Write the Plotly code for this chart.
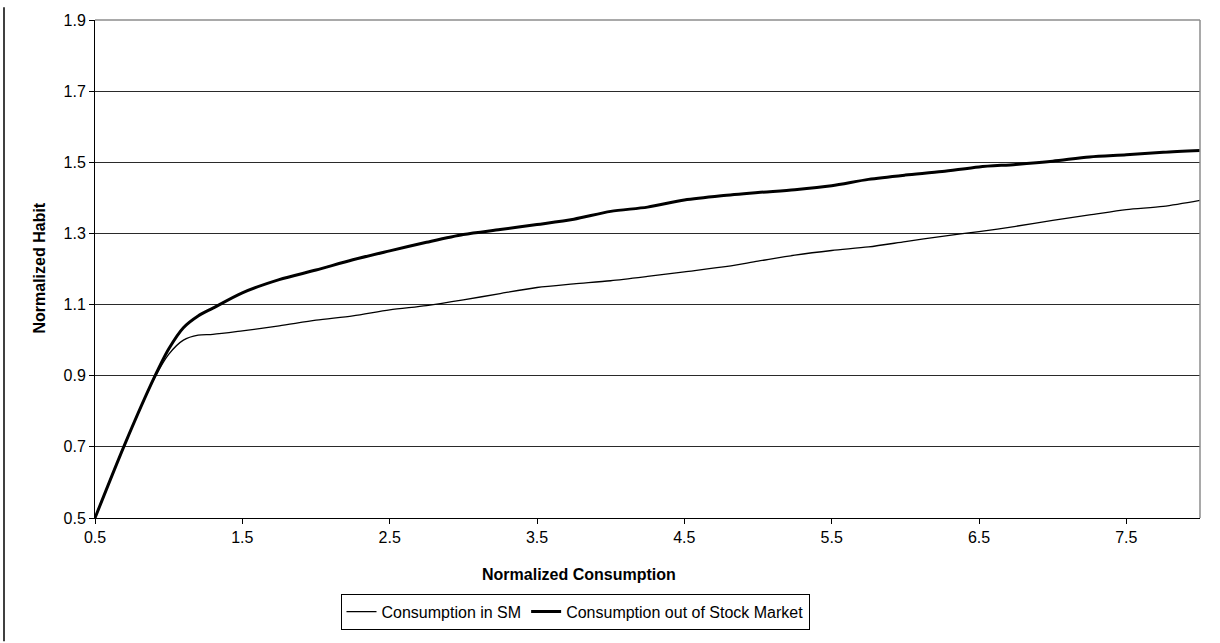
import plotly.graph_objects as go

x_vals = [0.5, 0.7, 0.9, 1.0, 1.1, 1.2, 1.3, 1.5, 1.75, 2.0, 2.25, 2.5, 2.75, 3.0, 3.25,
          3.5, 3.75, 4.0, 4.25, 4.5, 4.75, 5.0, 5.25, 5.5, 5.75, 6.0, 6.25, 6.5, 6.75,
          7.0, 7.25, 7.5, 7.75, 8.0]

in_sm = [0.50, 0.705, 0.890, 0.960, 1.000, 1.014, 1.016, 1.026, 1.040, 1.056, 1.068,
         1.085, 1.097, 1.113, 1.131, 1.148, 1.158, 1.167, 1.179, 1.192, 1.205, 1.222,
         1.239, 1.252, 1.262, 1.277, 1.292, 1.305, 1.320, 1.337, 1.352, 1.367, 1.376, 1.393]

out_sm = [0.50, 0.705, 0.893, 0.975, 1.035, 1.068, 1.090, 1.133, 1.170, 1.197, 1.226,
          1.251, 1.275, 1.297, 1.311, 1.325, 1.340, 1.362, 1.374, 1.394, 1.406, 1.415,
          1.423, 1.434, 1.452, 1.464, 1.474, 1.487, 1.494, 1.503, 1.515, 1.521, 1.528, 1.533]

series_names = ["Consumption in SM", "Consumption out of Stock Market"]
x_ticks = [0.5, 1.5, 2.5, 3.5, 4.5, 5.5, 6.5, 7.5]
y_ticks = [0.5, 0.7, 0.9, 1.1, 1.3, 1.5, 1.7, 1.9]

FONT = "Liberation Sans, Arial, sans-serif"

fig = go.Figure()
fig.add_trace(go.Scatter(x=x_vals, y=in_sm, mode="lines", name=series_names[0],
                         line=dict(color="black", width=1.3, shape="spline", smoothing=0.8)))
fig.add_trace(go.Scatter(x=x_vals, y=out_sm, mode="lines", name=series_names[1],
                         line=dict(color="black", width=3, shape="spline", smoothing=0.8)))

W, H = 1220, 643
L, R, T, B = 95, 20, 13, 125
pw, ph = W - L - R, H - T - B

def px(xp):
    return (xp - L) / pw

def py(yp):
    return (H - B - yp) / ph

fig.update_layout(
    width=W, height=H,
    margin=dict(l=L, r=R, t=T, b=B),
    paper_bgcolor="white", plot_bgcolor="white",
    font=dict(family=FONT, size=16, color="black"),
    showlegend=True,
    legend=dict(orientation="h", x=px(575), xanchor="center", y=py(613), yanchor="middle",
                bordercolor="black", borderwidth=1, font=dict(size=16),
                itemwidth=30, tracegroupgap=0, bgcolor="white"),
    xaxis=dict(range=[0.5, 8.0], tickvals=x_ticks, ticktext=[f"{v:.1f}" for v in x_ticks],
               showgrid=False, zeroline=False, showline=True, linecolor="black", linewidth=1,
               ticks="outside", ticklen=5, tickcolor="black", tickfont=dict(size=16)),
    yaxis=dict(range=[0.5, 1.9], tickvals=y_ticks, ticktext=[f"{v:.1f}" for v in y_ticks],
               showgrid=True, gridcolor="#2a2a2a", gridwidth=1, zeroline=False,
               showline=True, linecolor="black", linewidth=1,
               ticks="outside", ticklen=5, tickcolor="black", tickfont=dict(size=16)),
    shapes=[
        dict(type="line", xref="paper", yref="paper", x0=0, x1=1, y0=1, y1=1,
             line=dict(color="#8c8c8c", width=1.5), layer="above"),
        dict(type="line", xref="paper", yref="paper", x0=1, x1=1, y0=0, y1=1,
             line=dict(color="#8c8c8c", width=1.5), layer="above"),
        dict(type="line", xref="paper", yref="paper", x0=px(4), x1=px(4), y0=py(0), y1=py(H),
             line=dict(color="black", width=1.5)),
    ],
    annotations=[
        dict(text="<b>Normalized Consumption</b>", xref="paper", yref="paper",
             x=px(579), y=py(575), xanchor="center", yanchor="middle", showarrow=False,
             font=dict(size=16)),
        dict(text="<b>Normalized Habit</b>", xref="paper", yref="paper",
             x=px(40), y=py(265), xanchor="center", yanchor="middle", showarrow=False,
             textangle=-90, font=dict(size=16)),
    ],
)

fig.write_html("out.html", config={"displayModeBar": False},
               post_script="document.body.style.margin='0';document.body.style.padding='0';")
